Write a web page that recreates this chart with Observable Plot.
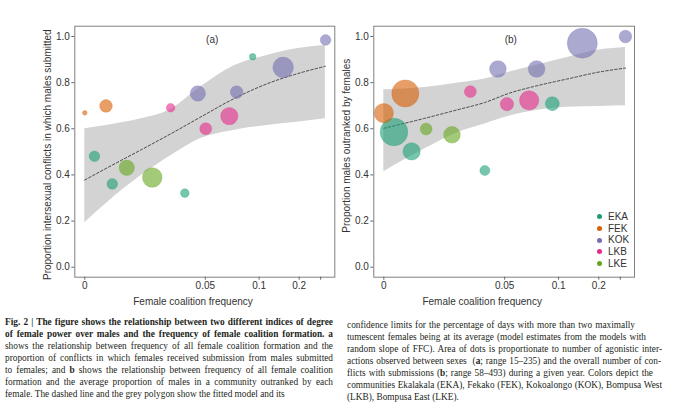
<!DOCTYPE html>
<html><head><meta charset="utf-8">
<script src="https://cdn.jsdelivr.net/npm/d3@7"></script>
<script src="https://cdn.jsdelivr.net/npm/@observablehq/plot@0.6"></script>
<style>
body{margin:0;background:#fff;}
#page{position:relative;width:680px;height:415px;overflow:hidden;font-family:"Liberation Sans",Arial,sans-serif;}
#pa{position:absolute;left:0;top:0;}
#pb{position:absolute;left:340px;top:0;}
.legend{position:absolute;left:597px;top:211px;font-size:10px;color:#333;}
.legend div{height:11.65px;line-height:11.65px;display:flex;align-items:center;}
.legend span.sw{display:inline-block;width:5px;height:5px;border-radius:50%;margin-right:6px;}
.cap{position:absolute;font-family:"Liberation Serif","Times New Roman",serif;font-size:9.3px;line-height:12px;color:#231f20;}
.cap div{white-space:nowrap;text-align:justify;text-align-last:justify;}
.cap div.nat{text-align-last:left;}
</style>
</head><body>
<div id="page">
  <div id="pa"></div>
  <div id="pb"></div>
  <div class="legend" id="legend"></div>
  <div class="cap" style="left:5px;top:316px;width:328px;">
    <div><b>Fig. 2 | The figure shows the relationship between two different indices of degree</b></div>
    <div><b>of female power over males and the frequency of female coalition formation. a</b></div>
    <div>shows the relationship between frequency of all female coalition formation and the</div>
    <div>proportion of conflicts in which females received submission from males submitted</div>
    <div>to females; and <b>b</b> shows the relationship between frequency of all female coalition</div>
    <div>formation and the average proportion of males in a community outranked by each</div>
    <div class="nat">female. The dashed line and the grey polygon show the fitted model and its</div>
  </div>
  <div class="cap" style="left:347px;top:319px;">
    <div style="width:288px">confidence limits for the percentage of days with more than two maximally</div>
    <div style="width:299px">tumescent females being at its average (model estimates from the models with</div>
    <div style="width:315px">random slope of FFC). Area of dots is proportionate to number of agonistic inter-</div>
    <div style="width:314px">actions observed between sexes&nbsp; (<b>a</b>; range 15–235) and the overall number of con-</div>
    <div style="width:306px">flicts with submissions (<b>b</b>; range 58–493) during a given year. Colors depict the</div>
    <div style="width:315px">communities Ekalakala (EKA), Fekako (FEK), Kokoalongo (KOK), Bompusa West</div>
    <div class="nat">(LKB), Bompusa East (LKE).</div>
  </div>
</div>
<script>
// ---- shared ----
const communities = ["EKA", "FEK", "KOK", "LKB", "LKE"];
const communityColors = ["#1b9e77", "#d95f02", "#7570b3", "#e7298a", "#66a61e"];
const xTickValues = [0, 0.05, 0.1, 0.2, 0.3];
const xTickLabels = ["0", "0.05", "0.1", "0.2", ""];
const yTickValues = [0, 0.2, 0.4, 0.6, 0.8, 1.0];
const xLabel = "Female coalition frequency";

// ---- panel (a) ----
const groupA = ["FEK","EKA","FEK","EKA","LKE","LKE","LKB","EKA","KOK","LKB","LKB","KOK","EKA","KOK","KOK"];
const freqA  = [0, 0.004, 0.0088, 0.0114, 0.0174, 0.028, 0.0356, 0.0415, 0.0469, 0.0504, 0.0723, 0.0791, 0.094, 0.160, 0.323];
const propA  = [0.669, 0.481, 0.699, 0.361, 0.431, 0.389, 0.691, 0.321, 0.753, 0.600, 0.655, 0.759, 0.912, 0.866, 0.985];
const nA     = [15, 67, 92, 67, 133, 213, 45, 45, 133, 83, 168, 92, 28, 235, 67];
const bandXA = [0, 0.0095, 0.0234, 0.0358, 0.0479, 0.0764, 0.1199, 0.194, 0.322];
const loA    = [0.193, 0.282, 0.397, 0.484, 0.557, 0.593, 0.614, 0.628, 0.643];
const hiA    = [0.600, 0.615, 0.643, 0.685, 0.780, 0.872, 0.918, 0.947, 0.961];
const fitA   = [0.378, 0.432, 0.509, 0.579, 0.650, 0.730, 0.795, 0.838, 0.871];
const yLabelA = "Proportion intersexual conflicts in which males submitted";

// ---- panel (b) ----
const groupB = ["FEK","EKA","FEK","EKA","LKE","LKE","LKB","EKA","KOK","LKB","LKB","KOK","EKA","KOK","KOK"];
const freqB  = [0, 0.0042, 0.0089, 0.0115, 0.0175, 0.0282, 0.0358, 0.0418, 0.0472, 0.0521, 0.0727, 0.0796, 0.0942, 0.159, 0.324];
const propB  = [0.668, 0.586, 0.753, 0.502, 0.599, 0.574, 0.761, 0.419, 0.859, 0.707, 0.723, 0.859, 0.709, 0.971, 1.0];
const nB     = [208, 420, 405, 168, 82, 156, 82, 58, 156, 101, 208, 156, 111, 493, 91];
const bandXB = [0, 0.0168, 0.0307, 0.0418, 0.0548, 0.0778, 0.122, 0.208, 0.324];
const loB    = [0.414, 0.512, 0.584, 0.621, 0.655, 0.678, 0.693, 0.697, 0.700];
const hiB    = [0.769, 0.779, 0.798, 0.816, 0.846, 0.873, 0.909, 0.942, 0.952];
const fitB   = [0.602, 0.645, 0.683, 0.714, 0.755, 0.784, 0.816, 0.847, 0.863];
const yLabelB = "Proportion males outranked by females";

// axis transform of the coalition frequency (piecewise, as in the original axis)
const xPos = d3.scaleLinear().domain(xTickValues).range([0, 0.511, 0.739, 0.909, 1]);

function panel(o) {
  const pts = o.group.map((g, i) => ({g, x: o.freq[i], y: o.prop[i], n: o.n[i]}));
  const band = o.bandX.map((x, i) => ({x, lo: o.lo[i], hi: o.hi[i], fit: o.fit[i]}));
  const tickU = xTickValues.map(v => xPos(v));
  return Plot.plot({
    width: 340, height: 310,
    marginLeft: o.ml, marginRight: o.mr, marginTop: 25.7, marginBottom: 33.3,
    style: {fontFamily: '"Liberation Sans", Arial, sans-serif', fontSize: "10px", color: "#333", background: "transparent", overflow: "visible"},
    x: {domain: [-0.0424, 1.06]},
    y: {domain: [-0.0433, 1.0446]},
    r: {type: "sqrt", domain: o.rDomain, range: o.rRange},
    color: {domain: communities, range: communityColors},
    marks: [
      Plot.areaY(band, {x: d => xPos(d.x), y1: "lo", y2: "hi", fill: "#d3d3d3", curve: "monotone-x"}),
      Plot.lineY(band, {x: d => xPos(d.x), y: "fit", stroke: "#3a3a3a", strokeWidth: 0.9, strokeDasharray: "2.5,2", curve: "monotone-x"}),
      Plot.dot(pts, {x: d => xPos(d.x), y: "y", r: "n", fill: "g", fillOpacity: 0.6, stroke: "g", strokeOpacity: 0.35, strokeWidth: 0.8}),
      Plot.frame({stroke: "#808080", strokeWidth: 1}),
      Plot.axisX({ticks: tickU, tickFormat: d => xTickLabels[tickU.findIndex(t => Math.abs(t - d) < 1e-9)], tickSize: 3, tickPadding: 2, stroke: "#666", label: null}),
      Plot.axisY({ticks: yTickValues, tickFormat: d3.format(".1f"), tickSize: 3, tickPadding: 2, stroke: "#666", label: null}),
      Plot.text([o.ylabel], {text: d => d, frameAnchor: "left", textAnchor: "middle", lineAnchor: "middle", rotate: -90, dx: -27.3, dy: o.ylabDy, fill: "#333"}),
      Plot.text([xLabel], {text: d => d, frameAnchor: "bottom", dx: o.xlabDx, dy: 25, lineAnchor: "middle", fill: "#333"}),
      Plot.text([o.tag], {text: d => d, frameAnchor: "top", dx: o.tagDx, dy: 14, lineAnchor: "middle", fill: "#333"})
    ]
  });
}

document.getElementById("pa").append(panel({
  group: groupA, freq: freqA, prop: propA, n: nA,
  bandX: bandXA, lo: loA, hi: hiA, fit: fitA,
  rDomain: [15, 235], rRange: [2.33, 10.33],
  ml: 74.3, mr: 5.7, ylabel: yLabelA, ylabDy: 3, xlabDx: -11.8, tag: "(a)", tagDx: 7.4
}));
document.getElementById("pb").append(panel({
  group: groupB, freq: freqB, prop: propB, n: nB,
  bandX: bandXB, lo: loB, hi: hiB, fit: fitB,
  rDomain: [58, 493], rRange: [5, 15],
  ml: 33.3, mr: 46, ylabel: yLabelB, ylabDy: -6, xlabDx: -22, tag: "(b)", tagDx: 6.6
}));

const legend = document.getElementById("legend");
communities.forEach((c, i) => {
  const row = document.createElement("div");
  const sw = document.createElement("span");
  sw.className = "sw";
  sw.style.background = communityColors[i];
  row.append(sw, document.createTextNode(c));
  legend.append(row);
});
</script>
</body></html>
